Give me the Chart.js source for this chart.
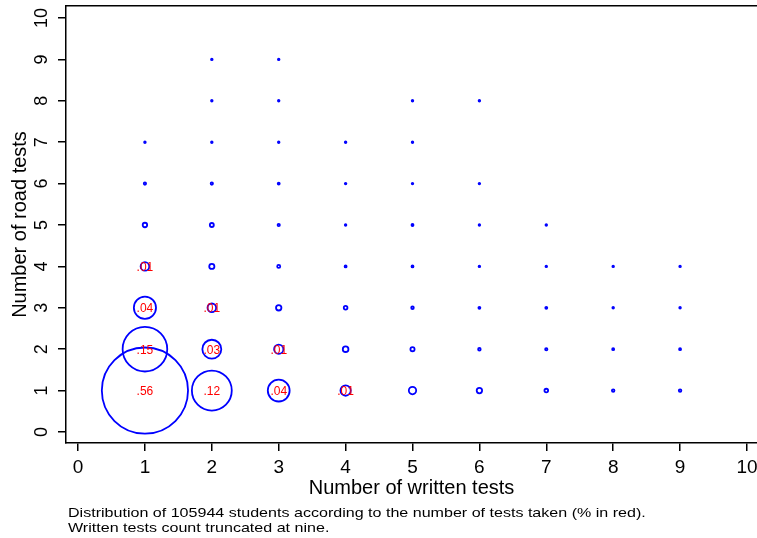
<!DOCTYPE html>
<html>
<head>
<meta charset="utf-8">
<script src="https://cdn.jsdelivr.net/npm/chart.js@4.4.1/dist/chart.umd.min.js"></script>
<style>
  html, body { margin: 0; padding: 0; background: #fff; overflow: hidden; }
  #wrap { position: relative; width: 757px; height: 538px; }
  #caption {
    position: absolute; left: 68px; top: 506px;
    font-family: 'Liberation Sans', Arial, sans-serif;
    font-size: 13.5px; line-height: 14.5px; color: #000;
    white-space: nowrap;
    transform: scaleX(1.19); transform-origin: 0 0;
  }
</style>
</head>
<body>
<div id="wrap">
  <canvas id="myChart" width="757" height="538"></canvas>
  <div id="caption">Distribution of 105944 students according to the number of tests taken (% in red).<br>Written tests count truncated at nine.</div>
</div>
<script>
// number of written tests / number of road tests / share of students
const writtenTests = [
  1, 2, 3, 4, 5, 6, 7, 8, 9,
  1, 2, 3, 4, 5, 6, 7, 8, 9,
  1, 2, 3, 4, 5, 6, 7, 8, 9,
  1, 2, 3, 4, 5, 6, 7, 8, 9,
  1, 2, 3, 4, 5, 6, 7,
  1, 2, 3, 4, 5, 6,
  1, 2, 3, 4, 5,
  2, 3, 5, 6,
  2, 3
];
const roadTests = [
  1, 1, 1, 1, 1, 1, 1, 1, 1,
  2, 2, 2, 2, 2, 2, 2, 2, 2,
  3, 3, 3, 3, 3, 3, 3, 3, 3,
  4, 4, 4, 4, 4, 4, 4, 4, 4,
  5, 5, 5, 5, 5, 5, 5,
  6, 6, 6, 6, 6, 6,
  7, 7, 7, 7, 7,
  8, 8, 8, 8,
  9, 9
];
const shares = [
  .56, .12, .036, .008, .0041, .0022, .001, .0005, .0005,
  .15, .027, .0065, .0024, .0013, .0005, .0004, .0003, .0003,
  .037, .0056, .0022, .001, .0005, .0003, .0003, .0002, .0002,
  .0056, .002, .0007, .0003, .0003, .0002, .0001, .0001, .0001,
  .0015, .0012, .0004, .0002, .0003, .0001, .0001,
  .0004, .0004, .0003, .0002, .0001, .0001,
  .0002, .0002, .0002, .0002, .0001,
  .0001, .0001, .0001, .0001,
  .0001, .0001
];
const axisTicks = [0, 1, 2, 3, 4, 5, 6, 7, 8, 9, 10];

const FONT = "'Liberation Sans', Arial, sans-serif";

function shareLabel(p) {
    return p.toFixed(2).replace(/^0/, '');
}

// marker area proportional to the share
function bubbleRadius(c) {
    return Math.max(0.8, 57.6 * Math.sqrt(shares[c.dataIndex]));
}

function noPadding(s) {
    s.paddingLeft = 0;
    s.paddingRight = 0;
    s.paddingTop = 0;
    s.paddingBottom = 0;
}

// red percentage labels centred on the bubbles
const shareLabels = {
    id: 'shareLabels',
    afterDatasetsDraw(chart) {
        const ctx = chart.ctx;
        const meta = chart.getDatasetMeta(0);
        ctx.save();
        ctx.fillStyle = '#ff0000';
        ctx.font = '12px ' + FONT;
        ctx.textAlign = 'center';
        ctx.textBaseline = 'middle';
        meta.data.forEach((pt, i) => {
            if (shares[i] >= 0.005) {
                ctx.fillText(shareLabel(shares[i]), pt.x, pt.y + 1);
            }
        });
        ctx.restore();
    }
};

const points = writtenTests.map((x, i) => ({ x: x, y: roadTests[i] }));

const ctx = document.getElementById('myChart').getContext('2d');
new Chart(ctx, {
    type: 'scatter',
    data: {
        datasets: [{
            data: points,
            borderColor: '#0000ff',
            backgroundColor: 'rgba(0,0,0,0)',
            borderWidth: 1.8,
            pointRadius: bubbleRadius,
            pointHoverRadius: bubbleRadius
        }]
    },
    options: {
        responsive: false,
        animation: false,
        layout: { autoPadding: false, padding: { left: 4, right: 0, top: 6, bottom: 0 } },
        plugins: {
            legend: { display: false },
            tooltip: { enabled: false }
        },
        scales: {
            x: {
                type: 'linear',
                min: -0.18,
                max: 10.15,
                afterBuildTicks: s => { s.ticks = axisTicks.map(v => ({ value: v })); },
                afterFit: s => { noPadding(s); s.height = 95; },
                ticks: {
                    includeBounds: false,
                    stepSize: 1,
                    padding: 7,
                    color: '#000',
                    font: { family: FONT, size: 19, lineHeight: 1 }
                },
                grid: { drawOnChartArea: false, tickLength: 8, color: '#000', lineWidth: 1.5 },
                border: { color: '#000', width: 1.5 },
                title: {
                    display: true,
                    text: 'Number of written tests',
                    color: '#000',
                    font: { family: FONT, size: 20, lineHeight: 1 },
                    padding: { top: 0, bottom: 40 }
                }
            },
            x2: {
                type: 'linear',
                position: 'top',
                min: -0.18,
                max: 10.15,
                afterFit: s => { noPadding(s); s.height = 0; },
                ticks: { display: false },
                grid: { display: false },
                border: { color: '#000', width: 1.5 }
            },
            y: {
                type: 'linear',
                min: -0.266,
                max: 10.29,
                afterBuildTicks: s => { s.ticks = axisTicks.map(v => ({ value: v })); },
                afterFit: s => { noPadding(s); s.width = 62; },
                ticks: {
                    includeBounds: false,
                    stepSize: 1,
                    minRotation: 90,
                    maxRotation: 90,
                    crossAlign: 'center',
                    padding: 6,
                    color: '#000',
                    font: { family: FONT, size: 18, lineHeight: 1 }
                },
                grid: { drawOnChartArea: false, tickLength: 8, color: '#000', lineWidth: 1.5 },
                border: { color: '#000', width: 1.5 },
                title: {
                    display: true,
                    text: 'Number of road tests',
                    color: '#000',
                    font: { family: FONT, size: 20, lineHeight: 1 },
                    padding: { top: 6, bottom: 0 }
                }
            }
        }
    },
    plugins: [shareLabels]
});
</script>
</body>
</html>
